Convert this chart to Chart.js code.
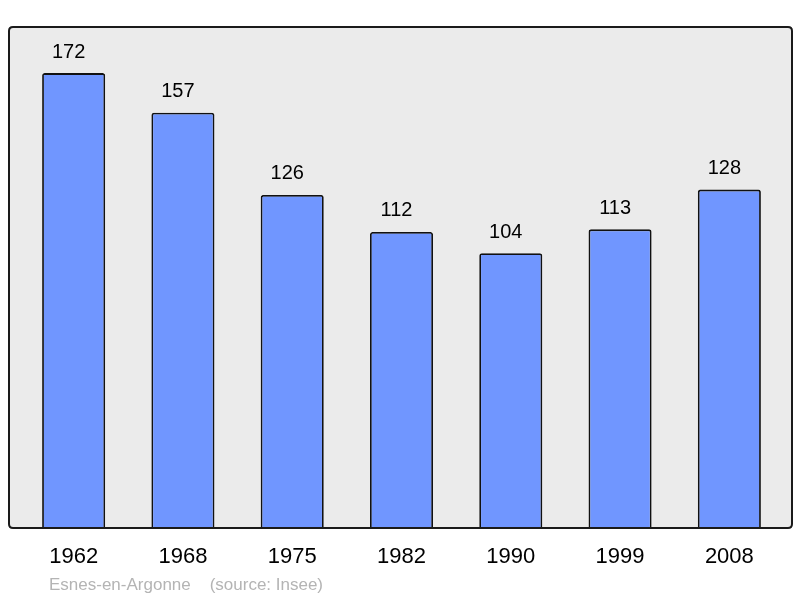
<!DOCTYPE html>
<html>
<head>
<meta charset="utf-8">
<script src="https://cdn.jsdelivr.net/npm/chart.js@4/dist/chart.umd.min.js"></script>
<style>
  html, body { margin: 0; padding: 0; background: #ffffff; }
  #wrap { width: 800px; height: 598px; }
</style>
</head>
<body>
<div id="wrap"><canvas id="c" width="800" height="598"></canvas></div>
<script>
const years = ["1962", "1968", "1975", "1982", "1990", "1999", "2008"];
const population = [172, 157, 126, 112, 104, 113, 128];
const footerText = "Esnes-en-Argonne    (source: Insee)";

Chart.defaults.font.family = "'Liberation Sans', Arial, Helvetica, sans-serif";

function framePath(ctx) {
  const x0 = 9, y0 = 27, x1 = 792, y1 = 528, r = 4;
  ctx.beginPath();
  ctx.moveTo(x0 + r, y0);
  ctx.lineTo(x1 - r, y0);
  ctx.quadraticCurveTo(x1, y0, x1, y0 + r);
  ctx.lineTo(x1, y1 - r);
  ctx.quadraticCurveTo(x1, y1, x1 - r, y1);
  ctx.lineTo(x0 + r, y1);
  ctx.quadraticCurveTo(x0, y1, x0, y1 - r);
  ctx.lineTo(x0, y0 + r);
  ctx.quadraticCurveTo(x0, y0, x0 + r, y0);
  ctx.closePath();
}

const frame = {
  id: 'frame',
  beforeDraw(chart) {
    const ctx = chart.ctx;
    ctx.save();
    framePath(ctx);
    ctx.fillStyle = '#ebebeb';
    ctx.fill();
    ctx.restore();
  },
  afterDraw(chart) {
    const ctx = chart.ctx;
    ctx.save();
    framePath(ctx);
    ctx.lineWidth = 2;
    ctx.strokeStyle = '#1a1a1a';
    ctx.stroke();
    ctx.font = "17px 'Liberation Sans', Arial, sans-serif";
    ctx.fillStyle = '#b4b4b4';
    ctx.textAlign = 'left';
    ctx.textBaseline = 'alphabetic';
    ctx.fillText(footerText, 49, 590);
    ctx.restore();
  },
  afterDatasetsDraw(chart) {
    const ctx = chart.ctx;
    const meta = chart.getDatasetMeta(0);
    ctx.save();
    ctx.font = "20px 'Liberation Sans', Arial, sans-serif";
    ctx.fillStyle = '#000000';
    ctx.textAlign = 'center';
    ctx.textBaseline = 'middle';
    meta.data.forEach((bar, i) => {
      ctx.fillText(String(population[i]), bar.x - 5, bar.y - 21);
    });
    ctx.restore();
  }
};

new Chart(document.getElementById('c'), {
  type: 'bar',
  data: {
    labels: years,
    datasets: [{
      data: population,
      backgroundColor: '#7096ff',
      borderColor: '#111111',
      borderWidth: 1.8,
      borderRadius: 2.5,
      borderSkipped: 'bottom',
      categoryPercentage: 1.0,
      barPercentage: 0.577
    }]
  },
  options: {
    responsive: false,
    animation: false,
    layout: { padding: { left: 19, right: 16, top: 27, bottom: 13 } },
    plugins: {
      legend: { display: false },
      tooltip: { enabled: false }
    },
    scales: {
      x: {
        grid: { display: false, drawTicks: false },
        border: { display: false },
        ticks: {
          color: '#000000',
          font: { size: 22 },
          padding: 15
        }
      },
      y: {
        display: false,
        min: 0,
        max: 189.4
      }
    }
  },
  plugins: [frame]
});
</script>
</body>
</html>
